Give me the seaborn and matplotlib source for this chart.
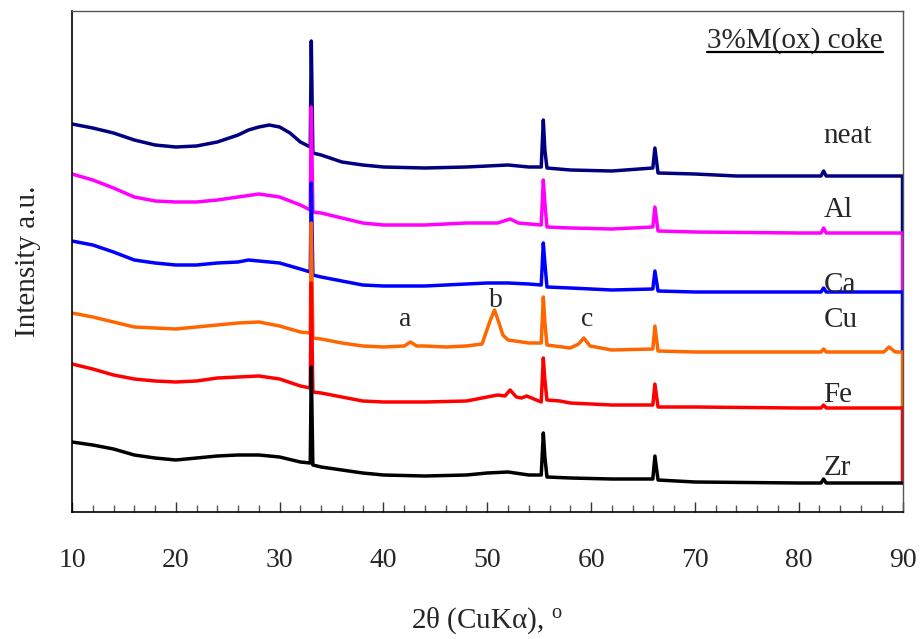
import numpy as np
import pandas as pd
import matplotlib
matplotlib.use("Agg")
import matplotlib.pyplot as plt
import seaborn as sns
from matplotlib.lines import Line2D
from matplotlib.ticker import MultipleLocator

# ---------------- data (arbitrary intensity units) -------------
series_names = ["neat", "Al", "Ca", "Cu", "Fe", "Zr"]
series_colors = ["#000080", "#FF00FF", "#0000FF", "#FF6600", "#FF0000", "#000000"]

neat_x = [10, 12, 14, 16, 18, 20, 22, 24, 26, 27, 28, 29, 30, 31, 32, 32.95, 33.05, 33.2, 34, 36, 38, 40,
          44, 48, 50, 52, 54, 55.2, 55.4, 55.55, 55.75, 58, 62, 65.95, 66.15, 66.45, 70, 74, 80, 82.15, 82.4,
          82.65, 90, 90]
neat_y = [388, 384, 379, 372, 367, 365, 366, 370, 377, 382, 385, 387, 385, 379, 370, 365, 471, 359, 357, 350,
          347, 345, 344, 345, 346, 347, 345, 345, 392, 362, 344, 342, 341, 344, 364, 339, 338, 336, 336, 336,
          341, 336, 336, 279]

al_x = [10, 12, 14, 16, 18, 20, 22, 24, 26, 28, 30, 32, 32.95, 33.05, 33.2, 34, 36, 38, 40, 44, 48, 50, 51,
        52.2, 53, 55.2, 55.4, 55.55, 55.75, 58, 62, 65.95, 66.15, 66.45, 70, 80, 82.15, 82.4, 82.65, 90, 90]
al_y = [338, 332, 324, 315, 311, 310, 310, 312, 315, 318, 315, 307, 302, 405, 300, 299, 294, 289, 287, 287,
        289, 289, 289, 293, 289, 287, 332, 309, 285, 284, 283, 285, 305, 281, 280, 279, 279, 284, 279, 279,
        220]

ca_x = [10, 12, 14, 16, 18, 20, 22, 24, 26, 27, 28, 30, 32, 32.95, 33.05, 33.2, 34, 36, 38, 40, 44, 48, 50,
        52, 54, 55.2, 55.4, 55.55, 55.75, 58, 62, 65.95, 66.15, 66.45, 70, 80, 82.15, 82.4, 82.65, 90, 90]
ca_y = [271, 267, 260, 252, 249, 247, 247, 249, 250, 252, 251, 249, 243, 240, 329, 237, 235, 231, 227, 226,
        226, 228, 229, 229, 228, 227, 269, 249, 225, 224, 222, 223, 241, 221, 220, 220, 220, 224, 220, 220,
        160]

cu_x = [10, 12, 14, 16, 18, 20, 22, 24, 26, 28, 30, 32, 32.95, 33.05, 33.2, 34, 36, 38, 40, 42, 42.6, 43.2,
        44, 46, 48, 49.5, 50.3, 50.7, 51.1, 51.5, 52, 54, 55.2, 55.4, 55.55, 55.75, 58, 58.8, 59.3, 59.9, 62,
        65.95, 66.15, 66.45, 70, 80, 82.15, 82.4, 82.65, 88.2, 88.7, 89.3, 90, 90]
cu_y = [199, 195, 190, 185, 184, 183, 185, 187, 189, 190, 186, 180, 179, 289, 174, 173, 169, 166, 165, 166,
        170, 166, 166, 165, 166, 168, 192, 202, 190, 177, 172, 169, 169, 215, 190, 167, 164, 168, 174, 166,
        162, 163, 186, 161, 160, 160, 160, 163, 160, 160, 165, 160, 160, 102]

fe_x = [10, 12, 14, 16, 18, 20, 22, 24, 26, 28, 30, 32, 32.95, 33.05, 33.2, 34, 36, 38, 40, 44, 48, 50, 51,
        51.7, 52.2, 52.8, 53.3, 53.8, 55.2, 55.4, 55.55, 55.75, 57, 58, 62, 65.95, 66.15, 66.45, 70, 80, 82.15,
        82.4, 82.65, 90, 90]
fe_y = [148, 143, 137, 133, 131, 130, 131, 134, 135, 136, 133, 126, 124, 229, 120, 119, 115, 111, 110, 110,
        111, 115, 117, 116, 122, 115, 114, 116, 110, 154, 132, 112, 111, 109, 107, 107, 128, 105, 105, 104,
        104, 107, 104, 104, 29]

zr_x = [10, 12, 14, 16, 18, 20, 22, 24, 26, 28, 30, 32, 32.95, 33.05, 33.2, 34, 36, 38, 40, 44, 48, 50, 52,
        54, 55.2, 55.4, 55.55, 55.75, 58, 62, 65.95, 66.15, 66.45, 70, 80, 82.15, 82.4, 82.65, 90]
zr_y = [70, 67, 63, 57, 54, 52, 54, 56, 57, 57, 55, 50, 49, 145, 47, 45, 42, 39, 37, 36, 37, 39, 40, 37, 37,
        79, 55, 35, 34, 33, 33, 56, 32, 30, 29, 29, 33, 29, 29]

# label anchors (x position of label text, baseline intensity)
label_x = 82.4
label_y = [369, 295, 220, 185, 110, 37]

peak_letters = ["a", "b", "c"]
peak_letter_x = [42.1, 50.8, 59.6]
peak_letter_y = [186, 205, 186]

x_ticks = [10, 20, 30, 40, 50, 60, 70, 80, 90]
title_text = "3%M(ox) coke"

# ---------------- build long table ----------------
all_x = [neat_x, al_x, ca_x, cu_x, fe_x, zr_x]
all_y = [neat_y, al_y, ca_y, cu_y, fe_y, zr_y]
frames = []
for name, xs, ys in zip(series_names, all_x, all_y):
    frames.append(pd.DataFrame({"two_theta": xs, "intensity": ys, "sample": name}))
df = pd.concat(frames, ignore_index=True)

# ---------------- style ----------------
sns.set_style("white")
plt.rcParams["font.family"] = ["Liberation Serif", "DejaVu Serif"]
plt.rcParams["mathtext.fontset"] = "custom"
plt.rcParams["mathtext.rm"] = "Liberation Serif"
plt.rcParams["mathtext.it"] = "Liberation Serif:italic"

fig = plt.figure(figsize=(9.22, 6.39), dpi=100)
ax = fig.add_axes([72 / 922, 1 - 512 / 639, (902.5 - 72) / 922, (512 - 10.5) / 639])

sns.lineplot(data=df, x="two_theta", y="intensity", hue="sample", hue_order=series_names,
             palette=series_colors, estimator=None, sort=False, units="sample",
             linewidth=2.5, ax=ax, legend=False)

ax.set_xlim(10, 90)
ax.set_ylim(0, 501.5)
ax.set_yticks([])
ax.set_xticks(x_ticks)
ax.xaxis.set_minor_locator(MultipleLocator(2))
ax.tick_params(axis="x", which="both", bottom=True, top=False)
ax.tick_params(axis="x", which="major", direction="in", length=7, width=1, color="#333333",
               labelsize=20, pad=26)
ax.tick_params(axis="x", which="minor", direction="in", length=5, width=1, color="#555555")

for side in ["left", "bottom"]:
    ax.spines[side].set_color("black")
    ax.spines[side].set_linewidth(1.2)
for side in ["top", "right"]:
    ax.spines[side].set_color("#555555")
    ax.spines[side].set_linewidth(1.0)

ax.set_xlabel("2θ (CuKα), $^{\\mathrm{o}}$", fontsize=21, labelpad=23)
ax.set_ylabel("Intensity a.u.", fontsize=21, labelpad=22)

for name, ly in zip(series_names, label_y):
    ax.text(label_x, ly, name, fontsize=21, ha="left", va="baseline", zorder=5)

for t, px, py in zip(peak_letters, peak_letter_x, peak_letter_y):
    ax.text(px, py, t, fontsize=20, ha="center", va="baseline", zorder=5)

title = ax.text(71.2, 464, title_text, fontsize=21, ha="left", va="baseline", zorder=5)

fig.canvas.draw()
bb = title.get_window_extent()
line = Line2D([bb.x0, bb.x1], [bb.y0 + 2, bb.y0 + 2], transform=None, color="black", linewidth=1.6)
fig.lines.append(line)
line.set_figure(fig)

fig.savefig("out.png", dpi=100)
